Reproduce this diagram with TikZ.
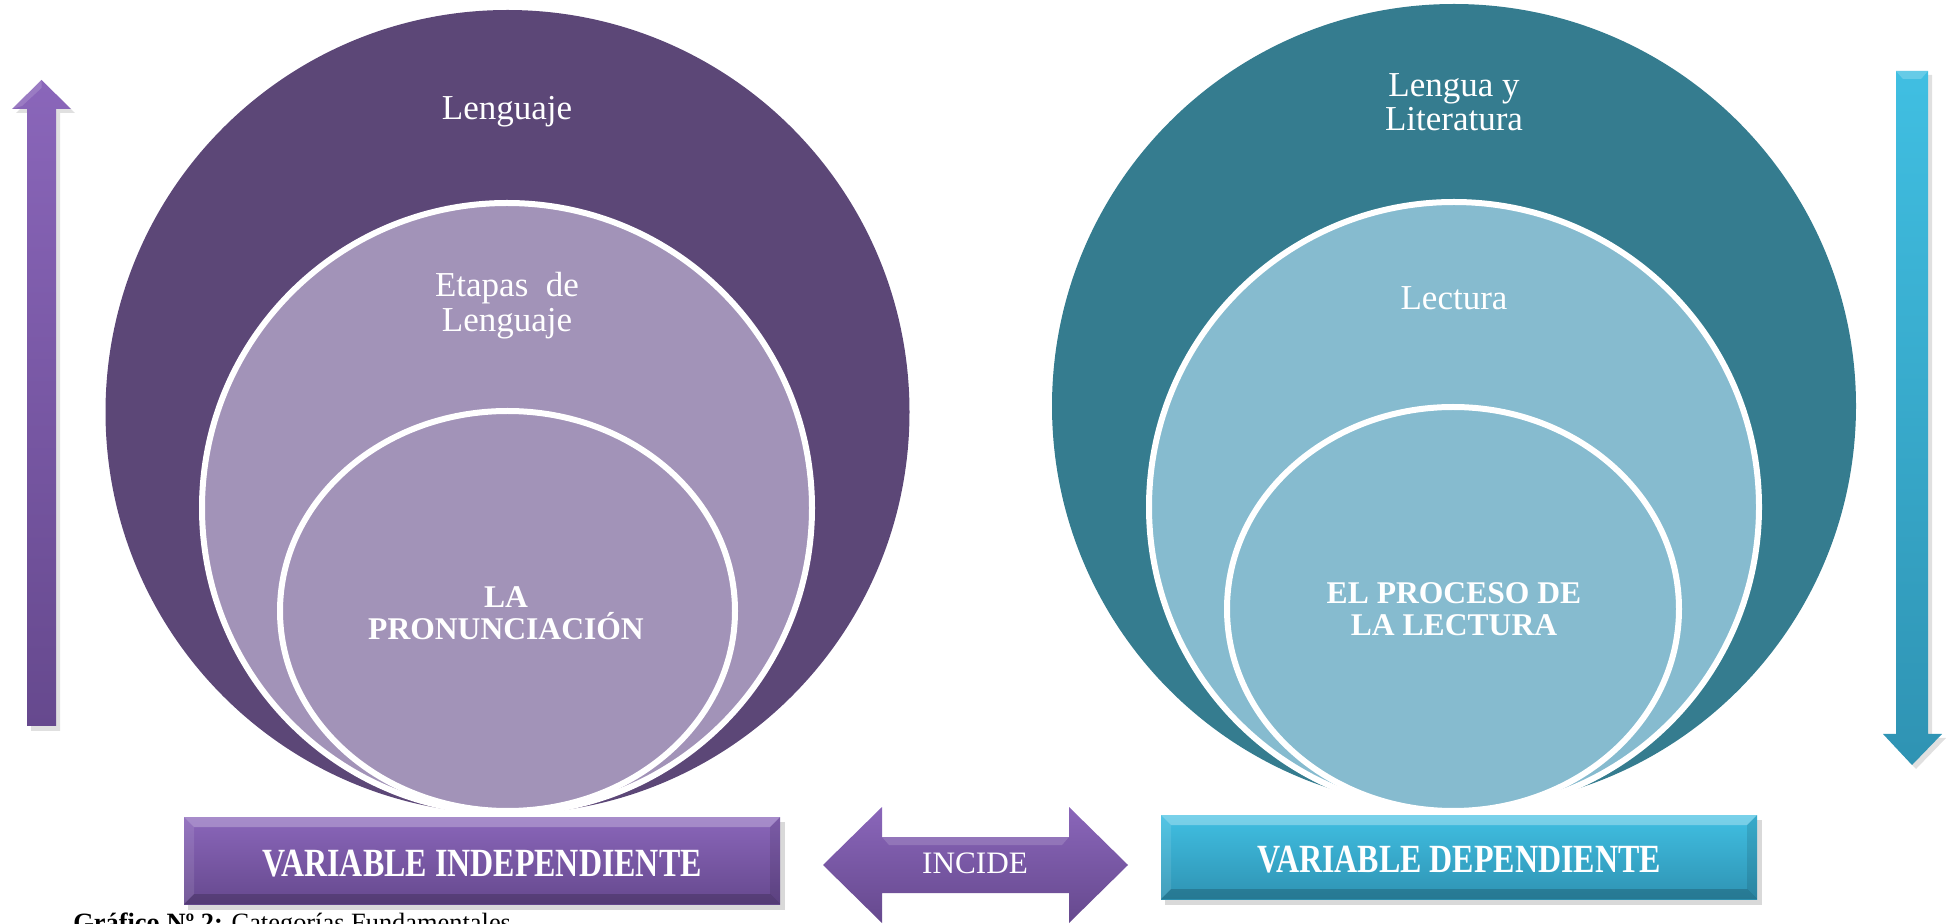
\documentclass[tikz,border=0pt]{standalone}
\usepackage{fontspec}
\setmainfont{Liberation Serif}
\usetikzlibrary{shadings}
\definecolor{outerL}{HTML}{5C4777}
\definecolor{innerL}{HTML}{A293B8}
\definecolor{outerR}{HTML}{357C8F}
\definecolor{innerR}{HTML}{86BBCF}
\definecolor{purTop}{HTML}{8A66BA}
\definecolor{purBot}{HTML}{66498E}
\definecolor{cyTop}{HTML}{40BFE2}
\definecolor{cyBot}{HTML}{2F93B3}
\tikzset{
  ring/.style={draw=white, line width=3pt},
  lbl/.style={text=white, inner sep=0pt, anchor=base, font=\fontsize{17.5pt}{20pt}\selectfont},
  blbl/.style={text=white, inner sep=0pt, anchor=base, font=\fontsize{15.8pt}{18pt}\selectfont\bfseries},
  boxlbl/.style={text=white, inner sep=0pt, anchor=base},
  purshade/.style={top color=purTop, bottom color=purBot},
  cyshade/.style={top color=cyTop, bottom color=cyBot},
}
\newcommand{\boxtxt}[1]{\scalebox{0.8}[1]{\fontsize{20pt}{24pt}\selectfont\bfseries #1}}
\begin{document}
\begin{tikzpicture}[x=0.5pt,y=-0.5pt]
\useasboundingbox (0,0) rectangle (1950,924);
\clip (0,0) rectangle (1950,924);

% ---- left circles
\fill[outerL] (507.5,412) circle[radius=201pt];
\fill[innerL] (507,508) circle[radius=152.5pt];
\draw[ring] (507,508) circle[radius=152.5pt];
\fill[innerL] (507.5,611) ellipse[x radius=113.75pt, y radius=100pt];
\draw[ring] (507.5,611) ellipse[x radius=113.75pt, y radius=100pt];

% ---- right circles
\fill[outerR] (1454,406) circle[radius=201pt];
\fill[innerR] (1454,507) circle[radius=152.5pt];
\draw[ring] (1454,507) circle[radius=152.5pt];
\fill[innerR] (1453,609) ellipse[x radius=113pt, y radius=101pt];
\draw[ring] (1453,609) ellipse[x radius=113pt, y radius=101pt];

% ---- circle texts
\node[lbl] (t1) at (507,120) {Lenguaje};
\node[lbl] (t2a) at (507,297) {Etapas\ \ de};
\node[lbl] (t2b) at (507,332) {Lenguaje};
\node[blbl] (t3a) at (506,608) {LA};
\node[blbl] (t3b) at (506,640) {PRONUNCIACIÓN};
\node[lbl] (r1a) at (1454,97) {Lengua y};
\node[lbl] (r1b) at (1454,131) {Literatura};
\node[lbl] (r2) at (1454,310) {Lectura};
\node[blbl] (r3a) at (1454,604) {EL PROCESO DE};
\node[blbl] (r3b) at (1454,636) {LA LECTURA};

% ---- left vertical arrow
\fill[black, opacity=0.12] (31,731) -- (31,113) -- (16,113) -- (45.5,84) -- (75,113) -- (60,113) -- (60,731) -- cycle;
\shade[purshade] (27,726) -- (27,109) -- (12,109) -- (41.5,80) -- (71,109) -- (56,109) -- (56,726) -- cycle;
\fill[white, opacity=0.15] (12,109) -- (41.5,80) -- (41.5,88) -- (22,106) -- cycle;

% ---- right vertical arrow
\fill[black, opacity=0.12] (1900,75) -- (1932,75) -- (1932,738) -- (1946,738) -- (1916,769) -- (1887,738) -- (1900,738) -- cycle;
\shade[cyshade] (1896,71) -- (1928,71) -- (1928,734) -- (1942,734) -- (1912,765) -- (1883,734) -- (1896,734) -- cycle;
\fill[white, opacity=0.2] (1896,71) -- (1928,71) -- (1921,79) -- (1903,79) -- cycle;

% ---- left box
\fill[black, opacity=0.15] (188,822) rectangle (785,910);
\shade[purshade] (184,817) rectangle (780,904);
\fill[white, opacity=0.25] (184,817) -- (780,817) -- (770,827) -- (194,827) -- cycle;
\fill[black, opacity=0.18] (184,904) -- (780,904) -- (770,894) -- (194,894) -- cycle;
\fill[white, opacity=0.1] (184,817) -- (194,827) -- (194,894) -- (184,904) -- cycle;
\fill[black, opacity=0.1] (780,817) -- (770,827) -- (770,894) -- (780,904) -- cycle;
\node[boxlbl] (vi) at (482,876) {\boxtxt{VARIABLE INDEPENDIENTE}};

% ---- right box
\fill[black, opacity=0.15] (1165,820) rectangle (1762,905);
\shade[cyshade] (1161,815) rectangle (1757,899);
\fill[white, opacity=0.3] (1161,815) -- (1757,815) -- (1747,825) -- (1171,825) -- cycle;
\fill[black, opacity=0.18] (1161,899) -- (1757,899) -- (1747,889) -- (1171,889) -- cycle;
\fill[white, opacity=0.1] (1161,815) -- (1171,825) -- (1171,889) -- (1161,899) -- cycle;
\fill[black, opacity=0.1] (1757,815) -- (1747,825) -- (1747,889) -- (1757,899) -- cycle;
\node[boxlbl] (vd) at (1459,872) {\boxtxt{VARIABLE DEPENDIENTE}};

% ---- INCIDE double arrow
\shade[purshade] (823,865) -- (882,807) -- (882,837) -- (1069,837) -- (1069,807) -- (1128,865) -- (1069,923) -- (1069,893) -- (882,893) -- (882,923) -- cycle;
\fill[white, opacity=0.15] (882,837) -- (1069,837) -- (1062,845) -- (889,845) -- cycle;
\node[boxlbl, font=\fontsize{15.6pt}{18pt}\selectfont] (inc) at (975,873) {INCIDE};

% ---- caption
\node[anchor=base west, inner sep=0pt, font=\fontsize{13.2pt}{16pt}\selectfont] (cap) at (73,931) {\textbf{Gráfico Nº 2:} Categorías Fundamentales};
\end{tikzpicture}
\end{document}
